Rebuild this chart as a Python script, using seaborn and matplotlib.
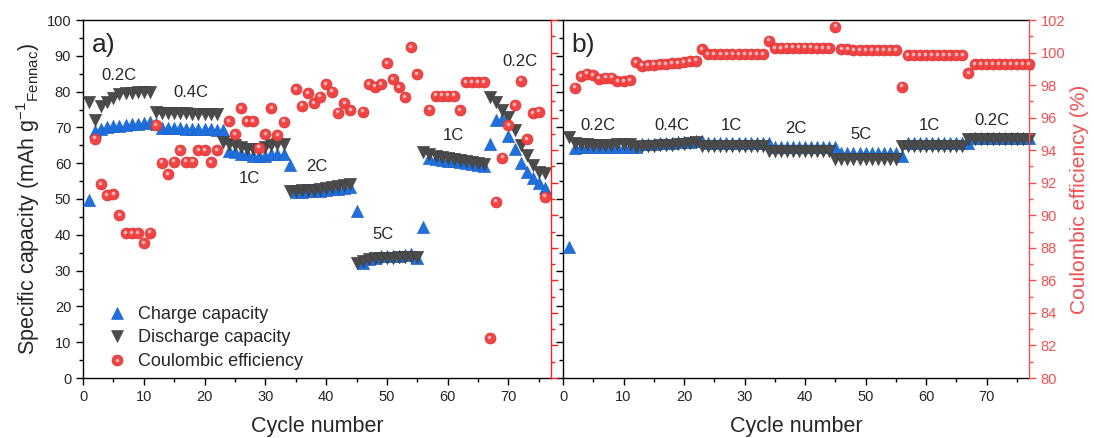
import numpy as np
import matplotlib
matplotlib.use("Agg")
import matplotlib.pyplot as plt
import matplotlib.transforms as mtransforms
from matplotlib.lines import Line2D
from matplotlib.ticker import MultipleLocator
import seaborn as sns

# ---------------- data: panel a ----------------
cycles_a = list(range(1, 77))
charge_a = [49.7,
            69.0, 69.5, 70.0, 70.3, 70.5, 70.8, 71.0, 71.0, 71.2, 71.4,
            71.0, 69.8, 69.8, 69.7, 69.7, 69.6, 69.6, 69.5, 69.5, 69.5, 69.4,
            69.4,
            63.5, 63.0, 62.5, 62.5, 62.0, 62.0, 62.0, 62.5, 62.5, 62.5,
            59.5,
            52.0, 52.0, 52.1, 52.2, 52.3, 52.5, 52.7, 52.9, 53.1, 53.4,
            46.6,
            32.2, 33.2, 33.6, 34.0, 34.0, 34.0, 34.2, 34.4, 34.5, 33.6,
            42.2,
            61.5, 61.2, 61.0, 60.7, 60.5, 60.2, 60.0, 59.7, 59.4, 59.2,
            65.5,
            72.0, 72.3, 67.5, 64.0, 60.0, 57.5, 56.0, 54.5, 53.0]
discharge_a = [77.0,
               72.0, 76.0, 77.0, 78.3, 79.3, 79.5, 79.7, 79.8, 80.0, 80.0,
               74.2, 74.0, 74.0, 73.9, 73.9, 73.9, 73.8, 73.8, 73.8, 73.7, 73.7,
               66.0, 65.5, 65.0, 64.5, 64.0, 64.0, 64.0, 64.5, 65.0, 65.5, 65.5,
               52.2, 52.3, 52.4, 52.5, 52.6, 52.8, 53.0, 53.3, 53.6, 54.0, 54.3,
               32.0, 32.8, 33.2, 33.5, 33.5, 33.6, 33.6, 33.7, 33.8, 33.8, 33.7,
               63.0, 62.5, 62.0, 61.8, 61.5, 61.2, 61.0, 60.7, 60.4, 60.0, 59.7,
               78.6, 77.2, 75.0, 72.8, 69.3, 65.1, 62.3, 59.5, 57.6, 57.2]
ce_a = [np.nan,
        94.7, 91.9, 91.24, 91.3, 90.0, 88.9, 88.9, 88.9, 88.27, 88.93,
        95.55, 93.23, 92.53, 93.3, 94.0, 93.3, 93.3, 94.0, 94.0, 93.28, 94.0,
        np.nan, 95.8, 95.0, 96.57, 95.8, 95.8, 94.15, 95.0, 96.57, 94.93, 95.75,
        np.nan, 97.76, 96.73, 97.5, 96.88, 97.29, 98.04, 97.6, 96.3, 96.88, 96.47,
        np.nan, 96.36, 98.04, 97.9, 98.04, 99.34, 98.35, 97.86, 97.25, 100.32, 98.66,
        np.nan, 96.5, 97.35, 97.35, 97.35, 97.35, 96.47, 98.17, 98.17, 98.17, 98.17,
        82.44, 90.83, 93.54, 95.55, 96.78, 98.27, 94.69, 96.27, 96.36, 91.14]

# ---------------- data: panel b ----------------
cycles_b = list(range(1, 78))
charge_b = [36.5,
            64.3, 64.4, 64.4, 64.4, 64.4, 64.4, 64.4, 64.5, 64.5, 64.5,
            64.5, 65.4, 65.5, 65.5, 65.6, 65.6, 65.7, 65.8, 65.9, 66.0, 66.2,
            66.2] + [65.6] * 10 + [65.6] + [64.5] * 10 + [64.5] + [62.8] * 10 + \
           [62.0] + [65.7] * 10 + [65.6] + [67.0] * 10
discharge_b = [67.2,
               65.6, 65.4, 65.3, 65.2, 65.2, 65.2, 65.2, 65.3, 65.3, 65.4,
               64.6, 64.7, 64.8, 64.9, 65.0, 65.1, 65.2, 65.3, 65.4, 65.6, 65.8] + \
              [64.8] * 11 + [63.4] * 11 + [61.2] * 11 + [64.8] * 11 + [66.8] * 11
ce_b = [np.nan,
        97.85, 98.55, 98.7, 98.6, 98.4, 98.45, 98.45, 98.25, 98.25, 98.3,
        99.4, 99.2, 99.22, 99.25, 99.28, 99.3, 99.33, 99.36, 99.4, 99.45, 99.5,
        100.2] + [99.91] * 10 + \
       [100.73, 100.25, 100.25, 100.3, 100.3, 100.3, 100.3, 100.3, 100.25, 100.25, 100.25] + \
       [101.59, 100.2, 100.2, 100.15, 100.15, 100.15, 100.15, 100.15, 100.15, 100.15, 100.15] + \
       [97.9] + [99.85] * 10 + [98.72] + [99.3] * 10

# rate annotations: (text, cycle, capacity)
rates_a = [("0.2C", 5.9, 84.4), ("0.4C", 17.7, 79.7), ("1C", 27.3, 55.8),
           ("2C", 38.4, 59.0), ("5C", 49.4, 40.0), ("1C", 61.0, 67.6),
           ("0.2C", 71.9, 88.5)]
rates_b = [("0.2C", 5.7, 70.4), ("0.4C", 18.0, 70.4), ("1C", 27.8, 70.4),
           ("2C", 38.5, 69.7), ("5C", 49.2, 67.9), ("1C", 60.5, 70.4),
           ("0.2C", 70.8, 72.0)]

# ---------------- style ----------------
sns.set_style("ticks")
plt.rcParams["font.family"] = ["Liberation Sans", "DejaVu Sans"]
plt.rcParams["mathtext.default"] = "regular"

BLUE = "#1f6fdc"
BLUE_EDGE = "#1a5fc0"
GREY = "#4b4b4b"
GREY_EDGE = "#3c3c3c"
RED = "#f24444"
RED_EDGE = "#d83232"
HILITE = "#ffb4b4"
AXRED = "#ff2020"
LABRED = "#f25050"

TRI_S = 78
BALL_S = 62
TICK_FS = 10.5
LABEL_FS = 15.5

fig = plt.figure(figsize=(10.94, 4.38), dpi=100)
W, H = 1094, 438
ax_a = fig.add_axes([83 / W, 1 - 378 / H, 468 / W, 358 / H])
ax_b = fig.add_axes([563 / W, 1 - 378 / H, 466 / W, 358 / H])


def draw_capacity(ax, x, ch, dis):
    sns.scatterplot(x=x, y=ch, ax=ax, marker="^", s=TRI_S, color=BLUE,
                    edgecolor=BLUE_EDGE, linewidth=0.4, clip_on=False,
                    legend=False, zorder=3)
    sns.scatterplot(x=x, y=dis, ax=ax, marker="v", s=TRI_S, color=GREY,
                    edgecolor=GREY_EDGE, linewidth=0.4, clip_on=False,
                    legend=False, zorder=4)


def draw_balls(ax, x, y):
    sns.scatterplot(x=x, y=y, ax=ax, marker="o", s=BALL_S, color=RED,
                    edgecolor=RED_EDGE, linewidth=0.5, clip_on=False,
                    legend=False, zorder=5)
    shine = mtransforms.offset_copy(ax.transData, fig=fig, x=-0.6, y=1.0,
                                    units="points")
    sns.scatterplot(x=x, y=y, ax=ax, marker="o", s=BALL_S * 0.11,
                    color=HILITE, linewidth=0, transform=shine,
                    clip_on=False, legend=False, zorder=6)


def style_capacity_axis(ax, show_labels):
    ax.set_xlim(0, 77)
    ax.set_ylim(0, 100)
    ax.xaxis.set_major_locator(MultipleLocator(10))
    ax.xaxis.set_minor_locator(MultipleLocator(5))
    ax.yaxis.set_major_locator(MultipleLocator(10))
    ax.yaxis.set_minor_locator(MultipleLocator(5))
    ax.set_xticks(range(0, 71, 10))
    ax.tick_params(which="both", direction="out", color="black", width=1.0,
                   top=False, right=False, labelsize=TICK_FS)
    ax.tick_params(which="major", length=5)
    ax.tick_params(which="minor", length=3)
    if not show_labels:
        ax.tick_params(axis="y", labelleft=False)
    for s in ["left", "bottom", "top"]:
        ax.spines[s].set_visible(True)
        ax.spines[s].set_linewidth(1.0)
        ax.spines[s].set_color("black")
    ax.spines["right"].set_visible(False)
    ax.set_xlabel("Cycle number", fontsize=LABEL_FS, labelpad=9)


def style_ce_axis(ax, spine_color, show_labels):
    ax.set_ylim(80, 102)
    ax.yaxis.set_major_locator(MultipleLocator(2))
    ax.yaxis.set_minor_locator(MultipleLocator(1))
    ax.tick_params(which="both", direction="out", color=spine_color,
                   width=1.0, labelcolor=LABRED, labelsize=TICK_FS,
                   labelright=show_labels)
    ax.tick_params(which="major", length=5)
    ax.tick_params(which="minor", length=3)
    for s in ["left", "bottom", "top"]:
        ax.spines[s].set_visible(False)
    ax.spines["right"].set_visible(True)
    ax.spines["right"].set_color(spine_color)
    ax.spines["right"].set_linewidth(1.0)
    ax.set_ylabel("")


# ---------------- panel a ----------------
draw_capacity(ax_a, cycles_a, charge_a, discharge_a)
style_capacity_axis(ax_a, True)
ax_a.set_ylabel(r"Specific capacity (mAh g$^{-1}$$_{Fennac}$)",
                fontsize=LABEL_FS, labelpad=3)
ax_a2 = ax_a.twinx()
draw_balls(ax_a2, cycles_a, ce_a)
style_ce_axis(ax_a2, AXRED, False)
ax_a2.set_xlim(0, 77)

for txt, cx, cy in rates_a:
    ax_a.text(cx, cy, txt, fontsize=12, ha="center", va="center")
ax_a.text(0.019, 0.93, "a)", transform=ax_a.transAxes, fontsize=19,
          ha="left", va="center")

# legend
ball_base = Line2D([], [], ls="none", marker="o", ms=BALL_S ** 0.5,
                   color=RED, markeredgecolor=RED_EDGE, markeredgewidth=0.5)
ball_shine = Line2D([], [], ls="none", marker="o", ms=(BALL_S * 0.11) ** 0.5,
                    color=HILITE, markeredgewidth=0)
handles = [Line2D([], [], ls="none", marker="^", ms=TRI_S ** 0.5, color=BLUE,
                  markeredgecolor=BLUE_EDGE, markeredgewidth=0.4),
           Line2D([], [], ls="none", marker="v", ms=TRI_S ** 0.5, color=GREY,
                  markeredgecolor=GREY_EDGE, markeredgewidth=0.4),
           (ball_base, ball_shine)]
ax_a2.legend(handles, ["Charge capacity", "Discharge capacity",
                       "Coulombic efficiency"],
             loc="lower left", bbox_to_anchor=(0.03, 0.0), frameon=False,
             fontsize=13, handletextpad=0.5, labelspacing=0.36,
             handlelength=1.3, borderaxespad=0.05)

# ---------------- panel b ----------------
draw_capacity(ax_b, cycles_b, charge_b, discharge_b)
style_capacity_axis(ax_b, False)
ax_b.set_ylabel("")
ax_b2 = ax_b.twinx()
draw_balls(ax_b2, cycles_b, ce_b)
style_ce_axis(ax_b2, LABRED, True)
ax_b2.set_xlim(0, 77)
ax_b2.set_ylabel("Coulombic efficiency (%)", fontsize=15,
                 color=LABRED, labelpad=3)

for txt, cx, cy in rates_b:
    ax_b.text(cx, cy, txt, fontsize=12, ha="center", va="center")
ax_b.text(0.017, 0.93, "b)", transform=ax_b.transAxes, fontsize=19,
          ha="left", va="center")

fig.savefig("out.png", dpi=100)
